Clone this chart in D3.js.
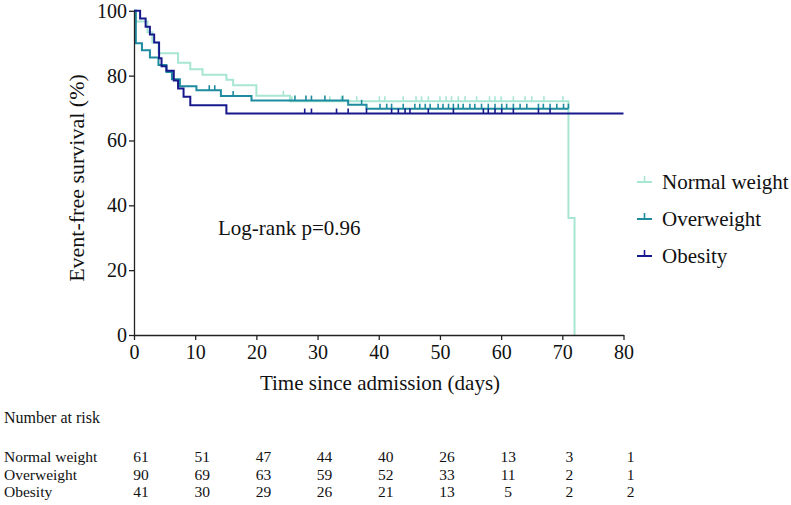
<!DOCTYPE html>
<html><head><meta charset="utf-8">
<script src="https://cdn.jsdelivr.net/npm/d3@7/dist/d3.min.js"></script>
<style>body{margin:0;background:#fff}svg{display:block}text{font-family:"Liberation Serif","Times New Roman",serif;fill:#111}</style>
</head><body><svg id="c" width="791" height="505"></svg>
<script>
const categories = ["Normal weight","Overweight","Obesity"];
const colors = ["#a8e6d4","#1f8b9f","#17188c"];
const xTicks = [0,10,20,30,40,50,60,70,80];
const yTicks = [0,20,40,60,80,100];
// step curves: [day, survival %]
const normalSteps = [[0,100],[0.3,96.7],[2.2,93.4],[3,90.2],[4,86.9],[7.2,84.0],[9.2,82.0],[11.2,80.3],[15.1,78.7],[16.2,77.0],[20,73.8],[25.5,72.1],[71,36.1],[72,0]];
const normalEnd = 72;
const overSteps = [[0,100],[0.3,90.0],[1.3,87.8],[2.6,85.6],[4,83.3],[5.3,81.1],[6.2,78.9],[7.5,76.7],[10.2,75.5],[14.2,73.7],[19.2,72.3],[35,71.0],[38,69.8]];
const overEnd = 71;
const obeseSteps = [[0,100],[1,97.6],[1.9,95.1],[2.6,92.7],[3.3,90.2],[4.1,85.4],[4.5,82.9],[5.3,81.5],[6.5,78.5],[7.2,76.0],[8.1,73.5],[9.2,70.9],[15.1,68.3]];
const obeseEnd = 80;
// censoring times
const normalCensor = [24.4,25.8,32.0,33.9,36.4,40.1,41.0,44.0,46.1,47.0,48.1,50.0,51.0,51.9,53.0,54.1,56.0,58.1,59.0,60.0,62.0,63.9,65.0,67.0,70.1];
const overCensor = [12.3,13.2,16.2,26.3,28.1,29.0,31.2,34.1,37.2,40.2,41.3,42.1,44.0,45.9,46.7,47.6,48.4,49.7,50.5,51.4,52.2,53.0,53.8,54.9,55.7,56.8,57.9,59.0,60.1,60.9,62.0,63.1,64.2,66.1,66.9,68.0,69.1,70.2,71.0];
const obeseCensor = [27.9,29.0,33.1,35.0,38.0,42.1,43.2,44.3,45.1,48.1,52.2,57.1,57.9,59.0,60.1,62.0,66.1,68.0];
// number at risk
const riskTimes = [0,10,20,30,40,50,60,70,80];
const riskNormal = [61,51,47,44,40,26,13,3,1];
const riskOver = [90,69,63,59,52,33,11,2,1];
const riskObese = [41,30,29,26,21,13,5,2,2];

const series = [
  {steps:normalSteps,end:normalEnd,censor:normalCensor,risk:riskNormal},
  {steps:overSteps,end:overEnd,censor:overCensor,risk:riskOver},
  {steps:obeseSteps,end:obeseEnd,censor:obeseCensor,risk:riskObese}
];

const svg = d3.select("#c");
const x = d3.scaleLinear().domain([0,80]).range([134,623.5]);
const y = d3.scaleLinear().domain([0,100]).range([335,10.8]);

function survAt(steps,t){let s=steps[0][1];for(const p of steps){if(p[0]<=t)s=p[1];}return s;}

[0,1,2].forEach(i=>{
  const s=series[i];
  const pts=s.steps.map(d=>[d[0],d[1]]);
  pts.push([s.end,pts[pts.length-1][1]]);
  const line=d3.line().x(d=>x(d[0])).y(d=>y(d[1])).curve(d3.curveStepAfter);
  svg.append("path").attr("d",line(pts)).attr("fill","none").attr("stroke",colors[i]).attr("stroke-width",2);
  svg.append("g").selectAll("line").data(s.censor).join("line")
    .attr("x1",d=>x(d)).attr("x2",d=>x(d))
    .attr("y1",d=>y(survAt(s.steps,d))).attr("y2",d=>y(survAt(s.steps,d))-5)
    .attr("stroke",colors[i]).attr("stroke-width",1.6);
});

// axes
const xa=svg.append("g").attr("transform","translate(0,335)")
  .call(d3.axisBottom(x).tickValues(xTicks).tickSize(5).tickPadding(5).tickSizeOuter(0));
const ya=svg.append("g").attr("transform","translate(134,0)")
  .call(d3.axisLeft(y).tickValues(yTicks).tickSize(5).tickPadding(2).tickSizeOuter(0));
[xa,ya].forEach(a=>{a.selectAll("path,line").attr("stroke","#222").attr("stroke-width",1.3);
  a.selectAll("text").style("font-family","'Liberation Serif',serif").style("font-size","20px").attr("fill","#111");});

svg.append("text").attr("x",380).attr("y",390).attr("text-anchor","middle").style("font-size","21px").text("Time since admission (days)");
svg.append("text").attr("transform","translate(84,178) rotate(-90)").attr("text-anchor","middle").style("font-size","22px").text("Event-free survival (%)");
svg.append("text").attr("x",218).attr("y",235).style("font-size","21px").text("Log-rank p=0.96");

// legend
const legY=[182,219,256];
categories.forEach((c,i)=>{
  const g=svg.append("g");
  g.append("line").attr("x1",637).attr("x2",652).attr("y1",legY[i]).attr("y2",legY[i]).attr("stroke",colors[i]).attr("stroke-width",2);
  g.append("line").attr("x1",644.5).attr("x2",644.5).attr("y1",legY[i]).attr("y2",legY[i]-6).attr("stroke",colors[i]).attr("stroke-width",1.6);
  g.append("text").attr("x",662).attr("y",legY[i]+7).style("font-size","21px").text(c);
});

// risk table
svg.append("text").attr("x",4).attr("y",423).style("font-size","16px").text("Number at risk");
const rowY=[462,479.5,497];
series.forEach((s,i)=>{
  svg.append("text").attr("x",4).attr("y",rowY[i]).style("font-size","15.5px").text(categories[i]);
  svg.append("g").selectAll("text").data(s.risk).join("text")
    .attr("x",(d,j)=>x(riskTimes[j])+7).attr("y",rowY[i]).attr("text-anchor","middle")
    .style("font-size","15.5px").text(d=>d);
});
</script></body></html>
